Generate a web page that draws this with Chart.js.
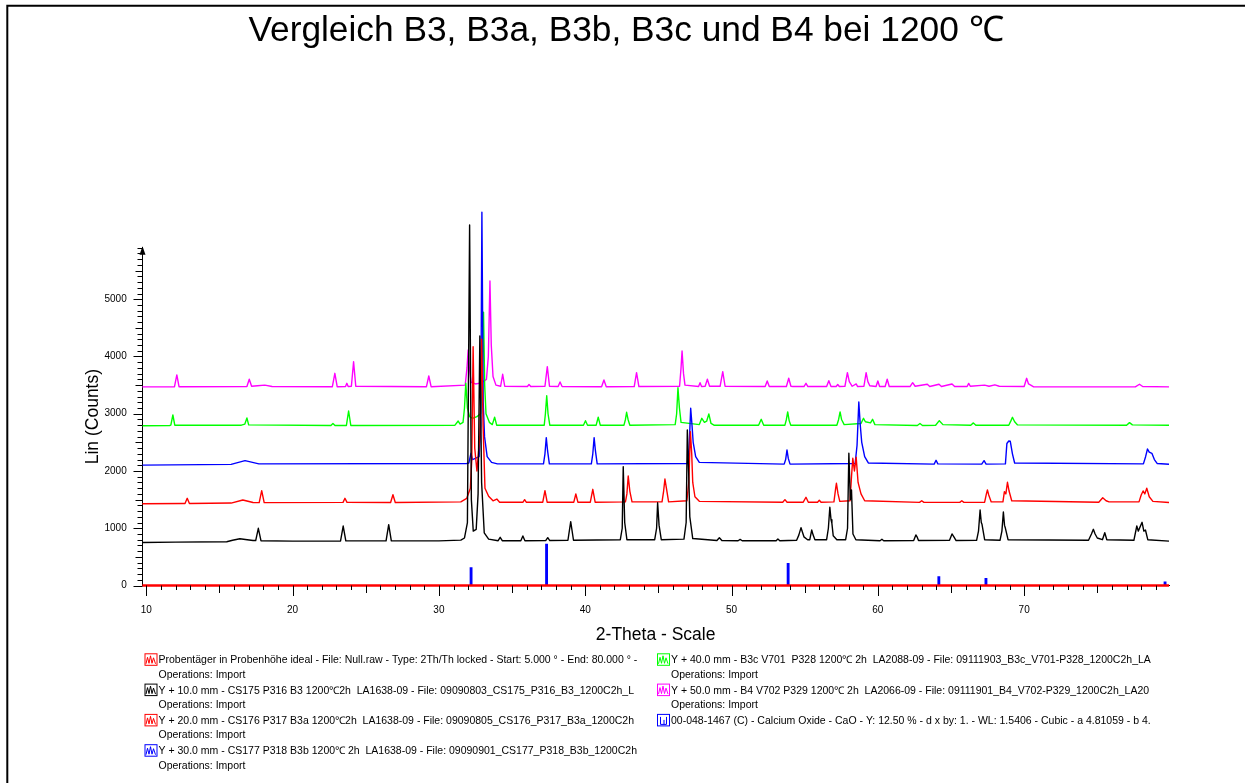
<!DOCTYPE html>
<html>
<head>
<meta charset="utf-8">
<title>Vergleich B3, B3a, B3b, B3c und B4 bei 1200 ℃</title>
<script src="https://cdn.jsdelivr.net/npm/chart.js@4/dist/chart.umd.min.js"></script>
<style>
  html, body { margin: 0; padding: 0; background: #ffffff; }
  #wrap { position: relative; width: 1245px; height: 783px; }
</style>
</head>
<body>
<div id="wrap"><canvas id="xrd" width="1245" height="783"></canvas></div>
<script>
// ---- texts ----
const chartTitle = 'Vergleich B3, B3a, B3b, B3c und B4 bei 1200 \u2103';
const xTitle = '2-Theta - Scale';
const yTitle = 'Lin (Counts)';

// ---- axes ----
const xTickLabels = [10, 20, 30, 40, 50, 60, 70];
const yTickLabels = [0, 1000, 2000, 3000, 4000, 5000];
const xRange = [9.73, 79.9];
const yRange = [0, 5900];

// ---- measured patterns: [2-Theta, Lin (Counts)] ----
const holder = [[9.73, 0], [79.9, 0]];

const b3 = [[9.73,752],[12.0,758],[15.5,765],[15.9,790],[16.4,817],[16.9,800],[17.3,785],[17.48,785],[17.66,999],[17.84,782],
  [20.0,775],[23.28,778],[23.46,1039],[23.64,780],[26.39,780],[26.57,1062],[26.75,780],[30.0,780],[31.5,792],[31.75,830],
  [31.95,1100],[32.10,6297],[32.22,1500],[32.35,950],[32.55,980],[32.68,1600],[32.80,4358],[32.92,1800],[33.1,920],[33.4,810],
  [34.05,782],[34.19,842],[34.33,782],[35.6,782],[35.74,865],[35.88,782],[37.3,785],[37.44,835],[37.58,785],[38.82,790],
  [39.01,1114],[39.2,790],[42.4,800],[42.53,1000],[42.60,2075],[42.7,1100],[42.85,800],[44.75,800],[44.88,1000],[44.95,1446],
  [45.05,1050],[45.2,800],[46.75,810],[46.9,1100],[46.98,2716],[47.08,1900],[47.15,1200],[47.35,820],[49.0,785],[49.17,835],
  [49.34,785],[50.45,782],[50.59,805],[50.73,782],[53.05,782],[53.17,812],[53.3,782],[54.45,790],[54.6,880],[54.75,1010],
  [54.95,850],[55.2,800],[55.35,800],[55.48,969],[55.58,880],[55.7,800],[56.5,800],[56.62,1000],[56.72,1366],[56.8,1150],
  [56.86,1086],[56.95,870],[57.2,800],[57.8,800],[57.93,1000],[58.02,2309],[58.12,1500],[58.2,1668],[58.3,900],[58.5,800],
  [60.15,782],[60.28,807],[60.4,782],[62.45,785],[62.6,882],[62.68,850],[62.78,785],[64.9,790],[65.07,900],[65.2,850],
  [65.35,785],[66.75,790],[66.88,950],[66.99,1319],[67.07,1100],[67.12,1069],[67.3,800],[68.35,790],[68.48,950],[68.58,1284],
  [68.66,1050],[68.72,999],[68.9,800],[74.4,790],[74.6,900],[74.73,982],[74.85,900],[75.0,830],[75.35,800],[75.51,922],
  [75.65,800],[77.5,790],[77.7,1039],[77.8,950],[78.06,1104],[78.18,950],[78.29,969],[78.45,800],[79.9,775]];

const b3a = [[9.73,1428],[12.5,1432],[12.65,1432],[12.8,1523],[12.95,1432],[15.8,1440],[16.6,1493],[17.3,1450],[17.72,1448],
  [17.89,1656],[18.06,1448],[23.45,1452],[23.58,1523],[23.72,1452],[26.7,1450],[26.86,1586],[27.02,1450],[31.5,1460],
  [31.9,1520],[32.15,1700],[32.25,2200],[32.34,4171],[32.45,2400],[32.6,2000],[32.8,2600],[32.92,4300],[33.02,2800],
  [33.15,1700],[33.4,1560],[33.7,1480],[33.96,1510],[34.15,1455],[35.75,1455],[35.86,1500],[35.97,1455],[37.1,1455],
  [37.25,1656],[37.4,1455],[39.22,1455],[39.36,1598],[39.5,1455],[40.35,1455],[40.52,1680],[40.68,1455],[42.75,1460],
  [42.85,1600],[42.94,1913],[43.05,1650],[43.2,1460],[45.25,1460],[45.36,1650],[45.45,1860],[45.55,1700],[45.7,1460],
  [46.95,1480],[47.08,1800],[47.19,2686],[47.28,2300],[47.35,1800],[47.5,1550],[47.8,1470],[53.5,1455],[53.65,1500],
  [53.8,1455],[54.9,1455],[55.09,1541],[55.25,1455],[55.88,1455],[56.0,1490],[56.12,1455],[57.0,1460],[57.12,1700],
  [57.17,1785],[57.28,1600],[57.4,1470],[58.1,1480],[58.2,1900],[58.29,2222],[58.4,2000],[58.52,2239],[58.65,1800],
  [58.85,1600],[59.1,1480],[62.85,1452],[63.0,1480],[63.15,1452],[65.6,1452],[65.74,1480],[65.88,1452],[67.3,1455],
  [67.42,1600],[67.49,1668],[67.58,1580],[67.75,1460],[68.55,1460],[68.65,1638],[68.75,1600],[68.86,1803],[68.97,1650],
  [69.15,1480],[75.1,1455],[75.37,1534],[75.6,1480],[75.8,1460],[77.85,1460],[78.0,1580],[78.13,1651],[78.25,1600],
  [78.38,1698],[78.55,1550],[78.8,1470],[79.9,1450]];

const b3b = [[9.73,2103],[15.8,2115],[16.75,2180],[17.7,2125],[31.9,2130],[32.05,2140],[32.19,2309],[32.3,2200],[32.75,2250],
  [32.86,2800],[32.94,6519],[33.03,3200],[33.12,2600],[33.3,2250],[33.6,2150],[34.0,2125],[37.15,2125],[37.25,2300],
  [37.34,2582],[37.43,2350],[37.55,2125],[40.42,2125],[40.52,2300],[40.61,2582],[40.7,2350],[40.82,2125],[46.98,2130],
  [47.1,2400],[47.21,3095],[47.3,2800],[47.38,2500],[47.55,2250],[47.8,2150],[53.6,2120],[53.7,2200],[53.79,2367],
  [53.88,2220],[54.0,2120],[58.45,2130],[58.58,2450],[58.70,3205],[58.8,2800],[58.9,2500],[59.1,2250],[59.35,2140],
  [63.85,2120],[63.98,2187],[64.1,2125],[67.1,2120],[67.26,2180],[67.4,2120],[68.72,2125],[68.82,2480],[68.95,2524],
  [69.05,2520],[69.2,2300],[69.35,2140],[78.15,2125],[78.3,2250],[78.43,2384],[78.55,2330],[78.73,2309],[78.9,2200],
  [79.1,2130],[79.9,2118]];

const b3c = [[9.73,2790],[11.6,2795],[11.68,2800],[11.82,2978],[11.95,2800],[16.5,2800],[16.74,2820],[16.88,2926],[17.0,2805],
  [22.62,2795],[22.76,2830],[22.9,2795],[23.68,2795],[23.83,3048],[23.98,2795],[31.1,2800],[31.32,2873],[31.45,2820],
  [31.65,2850],[31.75,3100],[31.84,3532],[31.95,3100],[32.1,2950],[32.3,2920],[32.6,2950],[32.85,3000],[32.95,3500],
  [33.05,4772],[33.13,3500],[33.22,3000],[33.45,2850],[33.65,2810],[33.81,2938],[33.95,2800],[37.2,2800],[37.28,3000],
  [37.37,3315],[37.46,3000],[37.58,2800],[39.88,2800],[40.02,2879],[40.16,2800],[40.75,2800],[40.89,2938],[41.03,2800],
  [42.65,2800],[42.75,2900],[42.83,3025],[42.93,2900],[43.05,2800],[46.15,2810],[46.25,3000],[46.34,3455],[46.44,3100],
  [46.55,2850],[47.8,2810],[47.97,2920],[48.15,2850],[48.3,2870],[48.45,2996],[48.6,2830],[48.8,2800],[51.85,2800],
  [52.03,2903],[52.2,2800],[53.65,2800],[53.75,2900],[53.84,3031],[53.94,2880],[54.05,2800],[57.2,2800],[57.32,2900],
  [57.42,3031],[57.52,2900],[57.7,2810],[58.85,2830],[59.02,2920],[59.15,2860],[59.5,2840],[59.64,2903],[59.8,2810],
  [62.7,2795],[62.88,2830],[63.05,2795],[63.95,2800],[64.2,2879],[64.45,2810],[66.35,2800],[66.53,2840],[66.7,2800],
  [68.95,2800],[69.1,2880],[69.2,2938],[69.35,2860],[69.55,2805],[77.0,2800],[77.2,2845],[77.4,2805],[79.9,2800]];

const b4 = [[9.73,3470],[11.93,3472],[12.09,3677],[12.24,3472],[16.88,3475],[17.04,3602],[17.2,3480],[17.6,3490],[18.1,3500],
  [18.6,3475],[22.72,3472],[22.89,3706],[23.05,3472],[23.62,3475],[23.71,3532],[23.8,3475],[24.02,3480],[24.17,3909],
  [24.32,3480],[29.15,3472],[29.31,3659],[29.47,3472],[31.8,3500],[31.92,3800],[32.0,4113],[32.08,3800],[32.2,3550],
  [32.5,3520],[32.9,3540],[33.25,3600],[33.38,4000],[33.49,5319],[33.58,4200],[33.7,3650],[33.9,3500],[34.22,3480],
  [34.36,3689],[34.5,3480],[36.05,3475],[36.16,3510],[36.28,3475],[37.25,3480],[37.41,3822],[37.56,3480],[38.15,3475],
  [38.28,3555],[38.42,3475],[41.12,3472],[41.28,3589],[41.44,3472],[43.35,3475],[43.51,3717],[43.67,3475],[46.45,3480],
  [46.55,3800],[46.62,4096],[46.72,3700],[46.82,3500],[47.75,3475],[47.85,3542],[47.95,3475],[48.2,3480],[48.35,3602],
  [48.5,3480],[49.22,3480],[49.40,3734],[49.56,3480],[52.3,3475],[52.44,3572],[52.58,3475],[53.75,3475],[53.91,3619],
  [54.06,3480],[54.2,3475],[54.95,3475],[55.09,3532],[55.22,3475],[56.5,3475],[56.65,3577],[56.8,3475],[57.15,3475],
  [57.26,3510],[57.37,3475],[57.75,3480],[57.92,3717],[58.05,3560],[58.25,3480],[58.52,3520],[58.62,3475],[59.05,3480],
  [59.2,3717],[59.32,3560],[59.45,3490],[59.88,3475],[60.0,3572],[60.12,3475],[60.5,3475],[60.64,3602],[60.78,3475],
  [62.2,3475],[62.38,3542],[62.55,3480],[63.38,3515],[63.55,3475],[64.18,3515],[64.35,3475],[65.07,3520],[65.25,3475],
  [66.1,3475],[66.21,3530],[66.32,3480],[67.3,3500],[67.6,3480],[68.0,3505],[68.3,3480],[70.0,3475],[70.17,3619],
  [70.3,3520],[70.45,3500],[70.65,3470],[77.6,3470],[77.88,3515],[78.1,3475],[79.9,3470]];

// reference card 00-048-1467, CaO
const caoTheta = [32.2, 37.36, 53.87, 64.17, 67.39, 79.63];
const caoHeight = [311, 725, 388, 154, 126, 66];

// ---- legend entries ----
const legendLeft = [
  { color: '#ff0000', kind: 'scan', ops: true,
    text: 'Probentäger in Probenhöhe ideal - File: Null.raw - Type: 2Th/Th locked - Start: 5.000 ° - End: 80.000 ° -' },
  { color: '#000000', kind: 'scan', ops: true,
    text: 'Y + 10.0 mm - CS175 P316 B3 1200\u21032h  LA1638-09 - File: 09090803_CS175_P316_B3_1200C2h_L' },
  { color: '#ff0000', kind: 'scan', ops: true,
    text: 'Y + 20.0 mm - CS176 P317 B3a 1200\u21032h  LA1638-09 - File: 09090805_CS176_P317_B3a_1200C2h' },
  { color: '#0000ff', kind: 'scan', ops: true,
    text: 'Y + 30.0 mm - CS177 P318 B3b 1200\u2103 2h  LA1638-09 - File: 09090901_CS177_P318_B3b_1200C2h' }
];
const legendRight = [
  { color: '#00ff00', kind: 'scan', ops: true,
    text: 'Y + 40.0 mm - B3c V701  P328 1200\u2103 2h  LA2088-09 - File: 09111903_B3c_V701-P328_1200C2h_LA' },
  { color: '#ff00ff', kind: 'scan', ops: true,
    text: 'Y + 50.0 mm - B4 V702 P329 1200\u2103 2h  LA2066-09 - File: 09111901_B4_V702-P329_1200C2h_LA20' },
  { color: '#0000ff', kind: 'card', ops: false,
    text: '00-048-1467 (C) - Calcium Oxide - CaO - Y: 12.50 % - d x by: 1. - WL: 1.5406 - Cubic - a 4.81059 - b 4.' }
];

const FONT = '"Liberation Sans", Arial, Helvetica, sans-serif';
Chart.defaults.font.family = FONT;
Chart.defaults.color = '#000000';

function drawIcon(ctx, x, top, color, kind) {
  ctx.save();
  ctx.strokeStyle = color;
  ctx.lineWidth = 1;
  ctx.strokeRect(x + 0.5, top + 0.5, 12, 11.5);
  ctx.beginPath();
  if (kind === 'card') {
    ctx.moveTo(x + 3.5, top + 3); ctx.lineTo(x + 3.5, top + 10.5);
    ctx.moveTo(x + 3.5, top + 10.5); ctx.lineTo(x + 9.5, top + 10.5);
    ctx.moveTo(x + 7, top + 6); ctx.lineTo(x + 7, top + 10.5);
    ctx.moveTo(x + 9.5, top + 3); ctx.lineTo(x + 9.5, top + 10.5);
  } else {
    const pts = [[1.5, 10.5], [3, 4], [4.5, 10], [6, 2.5], [7.5, 10], [9, 4.5], [11, 10.5]];
    pts.forEach((p, i) => i ? ctx.lineTo(x + p[0], top + p[1]) : ctx.moveTo(x + p[0], top + p[1]));
  }
  ctx.stroke();
  ctx.restore();
}

function drawLegendColumn(ctx, items, iconX, textX) {
  items.forEach((it, i) => {
    const base = 663.3 + i * 30.3;
    drawIcon(ctx, iconX, base - 10, it.color, it.kind);
    ctx.fillStyle = '#000000';
    ctx.font = '10.5px ' + FONT;
    ctx.textAlign = 'left';
    ctx.textBaseline = 'alphabetic';
    ctx.fillText(it.text, textX, base);
    if (it.ops) ctx.fillText('Operations: Import', textX, base + 14.3);
  });
}

// frame, title, minor ticks, axis arrow and the legend block
const decor = {
  id: 'decor',
  afterDraw(chart) {
    const ctx = chart.ctx;
    const xs = chart.scales.x, ys = chart.scales.y;
    const area = chart.chartArea;
    ctx.save();

    ctx.strokeStyle = '#000000';
    ctx.lineWidth = 2;
    ctx.beginPath();
    ctx.moveTo(7.3, 783); ctx.lineTo(7.3, 5.7); ctx.lineTo(1245, 5.7);
    ctx.stroke();

    ctx.fillStyle = '#000000';
    ctx.font = '35.3px ' + FONT;
    ctx.textAlign = 'center';
    ctx.textBaseline = 'alphabetic';
    ctx.fillText(chartTitle, 626, 41);

    ctx.lineWidth = 1;
    ctx.strokeStyle = '#000000';
    for (let d = 10; d <= 79; d++) {
      const px = Math.round(xs.getPixelForValue(d)) + 0.5;
      const len = d % 10 === 0 ? 10.5 : (d % 5 === 0 ? 7.5 : 4.5);
      ctx.beginPath();
      ctx.moveTo(px, area.bottom);
      ctx.lineTo(px, area.bottom + len);
      ctx.stroke();
    }
    const ax = Math.round(area.left) + 0.5;
    for (let v = 0; v <= 5900; v += 100) {
      const py = Math.round(ys.getPixelForValue(v)) + 0.5;
      const len = v % 1000 === 0 ? 9 : (v % 500 === 0 ? 7 : 5);
      ctx.beginPath();
      ctx.moveTo(ax, py);
      ctx.lineTo(ax - len, py);
      ctx.stroke();
    }
    ctx.beginPath();
    ctx.moveTo(ax, area.top - 1.5);
    ctx.lineTo(ax - 3, area.top + 7);
    ctx.lineTo(ax + 3, area.top + 7);
    ctx.closePath();
    ctx.fill();

    drawLegendColumn(ctx, legendLeft, 144.5, 158.5);
    drawLegendColumn(ctx, legendRight, 657, 671);
    ctx.restore();
  }
};

const lineSet = (label, data, color, width) => ({
  type: 'line', label, data,
  borderColor: color, backgroundColor: color,
  borderWidth: width, pointRadius: 0, tension: 0,
  borderJoinStyle: 'round', fill: false, clip: false
});

new Chart(document.getElementById('xrd'), {
  type: 'line',
  data: {
    datasets: [
      lineSet('B3', b3, '#000000', 1.4),
      lineSet('B3a', b3a, '#ff0000', 1.4),
      lineSet('B3b', b3b, '#0000ff', 1.4),
      lineSet('B3c', b3c, '#00ff00', 1.4),
      lineSet('B4', b4, '#ff00ff', 1.4),
      lineSet('Probenträger', holder, '#ff0000', 2.5),
      { type: 'bar', label: 'CaO',
        data: caoTheta.map((t, i) => ({ x: t, y: caoHeight[i] })),
        backgroundColor: '#0000ff', borderWidth: 0, barThickness: 2.2, grouped: false }
    ]
  },
  options: {
    responsive: false,
    devicePixelRatio: 1,
    animation: false,
    events: [],
    layout: { autoPadding: false, padding: { top: 247.7, left: 0, right: 76, bottom: 127.5 } },
    plugins: { legend: { display: false }, tooltip: { enabled: false }, title: { display: false } },
    scales: {
      x: {
        type: 'linear', min: xRange[0], max: xRange[1], offset: false,
        grid: { display: false, drawTicks: false },
        border: { display: true, color: '#000000', width: 1 },
        ticks: { padding: 18.5, font: { size: 10 }, color: '#000000', autoSkip: false, maxRotation: 0,
                 callback: v => String(v) },
        afterBuildTicks: s => { s.ticks = xTickLabels.map(v => ({ value: v })); },
        afterFit: s => { s.height = 70; },
        title: { display: true, text: xTitle, font: { size: 17.5 }, color: '#000000', padding: { top: 0, bottom: 10 } }
      },
      y: {
        type: 'linear', min: yRange[0], max: yRange[1],
        grid: { display: false, drawTicks: false },
        border: { display: true, color: '#000000', width: 1 },
        ticks: { padding: 15.6, font: { size: 10 }, color: '#000000', autoSkip: false,
                 callback: v => String(v) },
        afterBuildTicks: s => { s.ticks = yTickLabels.map(v => ({ value: v })); },
        afterFit: s => { s.width = 142.3; },
        title: { display: true, text: yTitle, font: { size: 17.5 }, color: '#000000', padding: { top: 82.5, bottom: 0 } }
      }
    }
  },
  plugins: [decor]
});
</script>
</body>
</html>
